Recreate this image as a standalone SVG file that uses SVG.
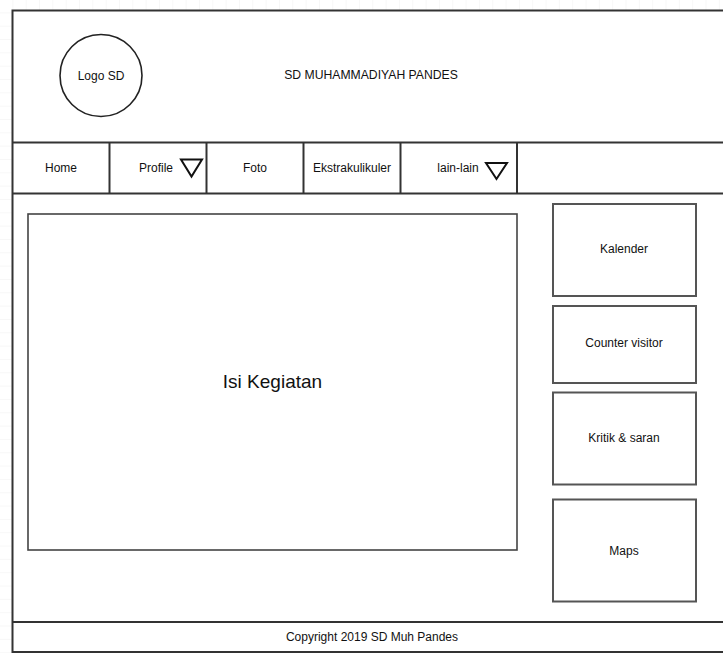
<svg xmlns="http://www.w3.org/2000/svg" width="723" height="653" viewBox="0 0 723 653">
<defs>
<pattern id="grid" width="13.33" height="13.33" patternUnits="userSpaceOnUse">
<path d="M13.33 0V13.33M0 13.33H13.33" fill="none" stroke="#f0f0f0" stroke-width="1"/>
</pattern>
<style>
.frame{fill:#fff;stroke:#333;stroke-width:2}
.line{stroke:#333;stroke-width:2;fill:none}
.box{fill:#fff;stroke:#444;stroke-width:1.6}
.side{fill:#fff;stroke:#555;stroke-width:2}
.tri{fill:#fff;stroke:#111;stroke-width:2;stroke-linejoin:miter}
text{font-family:"Liberation Sans",Arial,sans-serif;font-size:12px;fill:#111;text-anchor:middle;dominant-baseline:central}
</style>
</defs>
<rect x="0" y="0" width="723" height="653" fill="#fff"/>
<rect x="0" y="0" width="723" height="653" fill="url(#grid)"/>
<g id="frame">
<rect class="frame" x="12.5" y="10.5" width="720" height="641.5"/>
<line class="line" x1="12.5" y1="142.5" x2="723" y2="142.5"/>
<line class="line" x1="12.5" y1="193.5" x2="723" y2="193.5"/>
<line class="line" x1="12.5" y1="622" x2="723" y2="622"/>
</g>
<g id="logo">
<circle cx="101" cy="75.5" r="41" fill="#fff" stroke="#222" stroke-width="1.6"/>
<text x="101" y="75.5">Logo SD</text>
</g>
<g id="title"><text x="371" y="75" style="font-size:12.2px">SD MUHAMMADIYAH PANDES</text></g>
<g id="nav">
<line class="line" x1="109.5" y1="142.5" x2="109.5" y2="193.5"/>
<line class="line" x1="206.5" y1="142.5" x2="206.5" y2="193.5"/>
<line class="line" x1="303.5" y1="142.5" x2="303.5" y2="193.5"/>
<line class="line" x1="400.5" y1="142.5" x2="400.5" y2="193.5"/>
<line class="line" x1="517" y1="142.5" x2="517" y2="193.5" stroke-width="2.5"/>
</g>
<g id="nav-home"><text x="61" y="167.5">Home</text></g>
<g id="nav-profile"><text x="156" y="167.5">Profile</text><polygon class="tri" points="181,159.5 202,159.5 191.5,176.5"/></g>
<g id="nav-foto"><text x="255" y="167.5">Foto</text></g>
<g id="nav-ekstra"><text x="352" y="167.5">Ekstrakulikuler</text></g>
<g id="nav-lain"><text x="458" y="167.5">lain-lain</text><polygon class="tri" points="486,163 507,163 496.5,179"/></g>
<g id="content"><rect class="box" x="28" y="214" width="489" height="336"/><text x="272.5" y="381" style="font-size:19px">Isi Kegiatan</text></g>
<g id="kalender"><rect class="side" x="553" y="204" width="143" height="92"/><text x="624" y="249">Kalender</text></g>
<g id="counter"><rect class="side" x="553" y="306" width="143" height="77"/><text x="624" y="343">Counter visitor</text></g>
<g id="kritik"><rect class="side" x="553" y="392.5" width="143" height="92"/><text x="624" y="438">Kritik &amp; saran</text></g>
<g id="maps"><rect class="side" x="553" y="499.5" width="143" height="102"/><text x="624" y="550.5">Maps</text></g>
<g id="footer"><text x="372" y="636.5">Copyright 2019 SD Muh Pandes</text></g>
<g id="connectors"></g>
</svg>
